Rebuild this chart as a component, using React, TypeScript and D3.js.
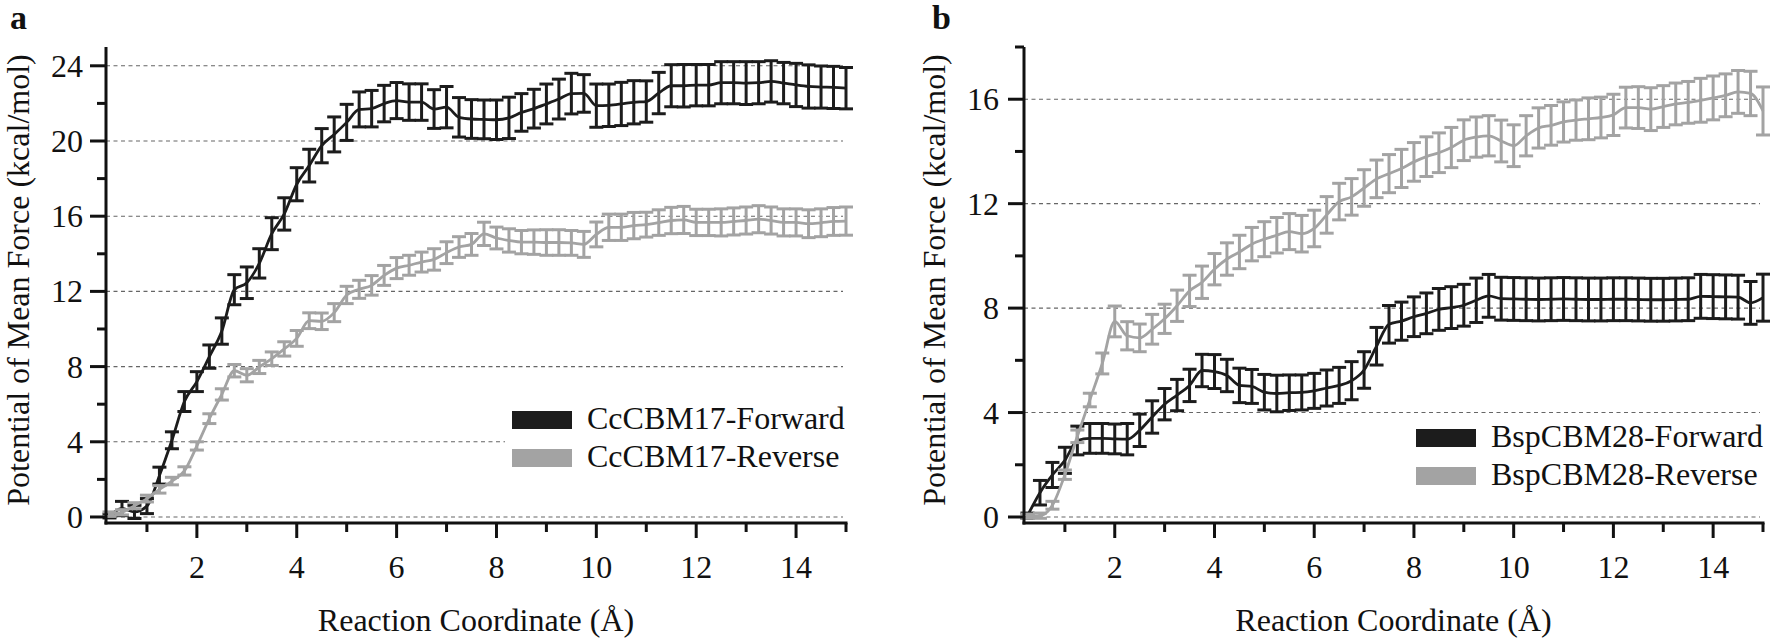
import React from "react";
import * as d3 from "d3";

// Reaction coordinate (Å) sampling points, shared by all four series
const coords = [
  0.25, 0.5, 0.75, 1, 1.25, 1.5, 1.75, 2, 2.25, 2.5, 2.75, 3, 3.25, 3.5, 3.75, 4,
  4.25, 4.5, 4.75, 5, 5.25, 5.5, 5.75, 6, 6.25, 6.5, 6.75, 7, 7.25, 7.5, 7.75, 8,
  8.25, 8.5, 8.75, 9, 9.25, 9.5, 9.75, 10, 10.25, 10.5, 10.75, 11, 11.25, 11.5, 11.75, 12,
  12.25, 12.5, 12.75, 13, 13.25, 13.5, 13.75, 14, 14.25, 14.5, 14.75, 15,
];

// Panel a: CcCBM17
const ccForward = [
  0.05, 0.45, 0.27, 0.58, 2.2, 4.08, 6.14, 7.2, 8.53, 9.89, 12.09, 12.46, 13.49, 15.07, 16.12, 17.7,
  18.69, 19.75, 20.35, 20.99, 21.68, 21.72, 21.99, 22.15, 22.07, 22.07, 21.7, 21.8, 21.26, 21.17, 21.15, 21.13,
  21.23, 21.52, 21.72, 21.97, 22.23, 22.52, 22.53, 21.88, 21.9, 21.97, 22.06, 22.1, 22.55, 22.94, 22.94, 22.97,
  22.97, 23.1, 23.1, 23.08, 23.1, 23.17, 23.08, 22.98, 22.9, 22.87, 22.85, 22.81,
];
const ccForwardErr = [
  0.1, 0.38, 0.35, 0.4, 0.45, 0.45, 0.53, 0.53, 0.62, 0.7, 0.8, 0.84, 0.78, 0.85, 0.86, 0.88,
  0.87, 0.91, 0.93, 0.96, 0.93, 0.97, 0.97, 0.96, 0.97, 0.97, 1.03, 1.1, 1.05, 1.03, 1.03, 1.05,
  1.1, 1.0, 1.03, 1.06, 1.06, 1.08, 1.0, 1.15, 1.13, 1.15, 1.15, 1.1, 1.1, 1.12, 1.13, 1.1,
  1.1, 1.12, 1.12, 1.14, 1.12, 1.1, 1.1, 1.15, 1.15, 1.12, 1.12, 1.1,
];
const ccReverse = [
  0.15, 0.25, 0.6, 0.98, 1.47, 1.91, 2.45, 3.78, 5.23, 6.52, 7.78, 7.54, 7.98, 8.42, 8.94, 9.5,
  10.44, 10.41, 10.87, 11.81, 12.11, 12.32, 12.85, 13.24, 13.39, 13.56, 13.7, 14.06, 14.36, 14.5, 15.06, 14.84,
  14.71, 14.62, 14.62, 14.6, 14.6, 14.58, 14.5, 15.03, 15.41, 15.41, 15.5, 15.55, 15.66, 15.77, 15.8, 15.67,
  15.67, 15.67, 15.72, 15.77, 15.84, 15.77, 15.67, 15.67, 15.6, 15.65, 15.72, 15.74,
];
const ccReverseErr = [
  0.12, 0.14, 0.16, 0.18, 0.2, 0.2, 0.22, 0.22, 0.26, 0.3, 0.33, 0.35, 0.35, 0.36, 0.38, 0.42,
  0.42, 0.44, 0.48, 0.46, 0.48, 0.52, 0.53, 0.56, 0.53, 0.53, 0.57, 0.58, 0.55, 0.58, 0.62, 0.58,
  0.62, 0.62, 0.65, 0.68, 0.68, 0.66, 0.69, 0.66, 0.7, 0.7, 0.7, 0.66, 0.68, 0.7, 0.72, 0.7,
  0.7, 0.72, 0.72, 0.72, 0.72, 0.72, 0.72, 0.72, 0.74, 0.74, 0.74, 0.75,
];

// Panel b: BspCBM28
const bspForward = [
  0.05, 0.93, 1.61, 2.17, 2.93, 3.01, 3.01, 2.99, 2.98, 3.32, 3.83, 4.32, 4.67, 5.04, 5.61, 5.57,
  5.42, 5.04, 5.0, 4.78, 4.73, 4.76, 4.77, 4.83, 4.94, 5.04, 5.22, 5.63, 6.54, 7.38, 7.5, 7.67,
  7.8, 7.95, 8.02, 8.11, 8.3, 8.47, 8.36, 8.35, 8.34, 8.33, 8.34, 8.35, 8.34, 8.33, 8.33, 8.34,
  8.34, 8.33, 8.32, 8.32, 8.33, 8.34, 8.45, 8.44, 8.43, 8.42, 8.2, 8.4,
];
const bspForwardErr = [
  0.1, 0.47, 0.48, 0.5, 0.55, 0.57, 0.57, 0.57, 0.6, 0.62, 0.62, 0.6, 0.6, 0.62, 0.62, 0.65,
  0.62, 0.66, 0.65, 0.68, 0.7, 0.68, 0.67, 0.67, 0.69, 0.69, 0.73, 0.7, 0.72, 0.72, 0.73, 0.76,
  0.78, 0.8, 0.8, 0.8, 0.85, 0.82, 0.82, 0.82, 0.82, 0.82, 0.82, 0.82, 0.82, 0.82, 0.82, 0.82,
  0.82, 0.82, 0.82, 0.82, 0.82, 0.82, 0.84, 0.84, 0.84, 0.84, 0.82, 0.9,
];
const bspReverse = [
  0.03, 0.05, 0.45, 1.62, 3.09, 4.48, 5.88, 7.49, 6.94, 6.86, 7.19, 7.59, 8.09, 8.66, 8.99, 9.49,
  9.88, 10.15, 10.45, 10.64, 10.79, 10.93, 10.85, 11.05, 11.57, 12.08, 12.26, 12.6, 12.95, 13.15, 13.35, 13.6,
  13.8, 13.95, 14.15, 14.43, 14.55, 14.6, 14.4, 14.22, 14.6, 14.9, 15.0, 15.13, 15.2, 15.25, 15.3, 15.4,
  15.68, 15.68, 15.62, 15.72, 15.82, 15.88, 15.96, 16.05, 16.15, 16.28, 16.22, 15.55,
];
const bspReverseErr = [
  0.08, 0.1, 0.15, 0.18, 0.24, 0.26, 0.4, 0.59, 0.54, 0.53, 0.57, 0.56, 0.6, 0.6, 0.62, 0.6,
  0.62, 0.64, 0.64, 0.67, 0.68, 0.69, 0.7, 0.7, 0.7, 0.7, 0.7, 0.7, 0.72, 0.73, 0.73, 0.74,
  0.76, 0.76, 0.77, 0.78, 0.77, 0.77, 0.8, 0.8, 0.77, 0.77, 0.76, 0.77, 0.77, 0.8, 0.78, 0.79,
  0.78, 0.8, 0.82, 0.8, 0.8, 0.8, 0.84, 0.84, 0.82, 0.82, 0.85, 0.92,
];

const xMajorTicks = [2, 4, 6, 8, 10, 12, 14];
const xMinorTicks = [1, 3, 5, 7, 9, 11, 13, 15];
const aYMajor = [0, 4, 8, 12, 16, 20, 24];
const aYMinor = [2, 6, 10, 14, 18, 22];
const bYMajor = [0, 4, 8, 12, 16];
const bYMinor = [2, 6, 10, 14, 18];

const BLACK = "#1c1c1c";
const GRAY = "#a3a3a3";
const FONT = "Liberation Serif, Times New Roman, Times, DejaVu Serif, serif";
const txt: React.CSSProperties = { fontFamily: FONT };

type Series = { name: string; values: number[]; errs: number[]; color: string };

type PanelProps = {
  letter: string;
  letterX: number;
  xRange: [number, number];
  yDomain: [number, number];
  yMajor: number[];
  yMinor: number[];
  series: Series[];
  tickLabelRight: number;
  yTitleX: number;
  legendX: number;
  legendY: number;
  legendBg: [number, number, number, number];
};

function Panel(p: PanelProps) {
  const x = d3.scaleLinear().domain([0.18, 15]).range(p.xRange);
  const y = d3.scaleLinear().domain(p.yDomain).range([523, 47]);
  const x0 = p.xRange[0];
  const x1 = p.xRange[1];
  const yBase = y(p.yDomain[0]);
  const yTop = y(p.yDomain[1]);
  const line = d3
    .line<number>()
    .x((_, i) => x(coords[i]))
    .y((d) => y(d))
    .curve(d3.curveMonotoneX);
  const cap = 7;
  return (
    <g>
      <text x={p.letterX} y={29} style={txt} fontWeight="bold" fontSize={34} fill="#111">
        {p.letter}
      </text>
      {p.yMajor.map((t) => (
        <line
          key={"g" + t}
          x1={x0}
          x2={x1 - 3}
          y1={y(t)}
          y2={y(t)}
          stroke="#666"
          strokeWidth={1.1}
          strokeDasharray="4,3.5"
        />
      ))}
      <rect x={p.legendBg[0]} y={p.legendBg[1]} width={p.legendBg[2]} height={p.legendBg[3]} fill="#fff" />
      {p.series.map((s) => (
        <g key={s.name}>
          <path d={line(s.values) || ""} fill="none" stroke={s.color} strokeWidth={2.8} />
          {s.values.map((v, i) => {
            const cx = x(coords[i]);
            const yt = y(v + s.errs[i]);
            const yb = y(v - s.errs[i]);
            return (
              <g key={i} stroke={s.color} strokeWidth={3}>
                <line x1={cx} x2={cx} y1={yt} y2={yb} />
                <line x1={cx - cap} x2={cx + cap} y1={yt} y2={yt} />
                <line x1={cx - cap} x2={cx + cap} y1={yb} y2={yb} />
              </g>
            );
          })}
        </g>
      ))}
      <line x1={x0} x2={x0} y1={yTop} y2={yBase + 1.5} stroke="#111" strokeWidth={3} />
      <line x1={x0 - 1.5} x2={x1 + 1.5} y1={yBase} y2={yBase} stroke="#111" strokeWidth={3} />
      {p.yMajor.map((t) => (
        <g key={"ym" + t}>
          <line x1={x0 - 16} x2={x0} y1={y(t)} y2={y(t)} stroke="#111" strokeWidth={3} />
          <text x={p.tickLabelRight} y={y(t) + 11} textAnchor="end" style={txt} fontSize={32} fill="#111">
            {t}
          </text>
        </g>
      ))}
      {p.yMinor.map((t) => (
        <line key={"yn" + t} x1={x0 - 9} x2={x0} y1={y(t)} y2={y(t)} stroke="#111" strokeWidth={3} />
      ))}
      {xMajorTicks.map((t) => (
        <g key={"xm" + t}>
          <line x1={x(t)} x2={x(t)} y1={yBase} y2={yBase + 15} stroke="#111" strokeWidth={3} />
          <text x={x(t)} y={578} textAnchor="middle" style={txt} fontSize={32} fill="#111">
            {t}
          </text>
        </g>
      ))}
      {xMinorTicks.map((t) => (
        <line key={"xn" + t} x1={x(t)} x2={x(t)} y1={yBase} y2={yBase + 9} stroke="#111" strokeWidth={3} />
      ))}
      <text x={(x0 + x1) / 2} y={631} textAnchor="middle" style={txt} fontSize={32} fill="#111">
        Reaction Coordinate (Å)
      </text>
      <text
        transform={`translate(${p.yTitleX},280) rotate(-90)`}
        textAnchor="middle"
        style={txt}
        fontSize={32}
        fill="#111"
      >
        Potential of Mean Force (kcal/mol)
      </text>
      {p.series.map((s, i) => (
        <g key={"lg" + s.name}>
          <rect x={p.legendX} y={p.legendY + i * 38} width={60} height={18} fill={s.color} />
          <text x={p.legendX + 75} y={p.legendY + 18 + i * 38} style={txt} fontSize={32} fill="#111">
            {s.name}
          </text>
        </g>
      ))}
    </g>
  );
}

export default function App() {
  return (
    <svg
      width={1772}
      height={638}
      viewBox="0 0 1772 638"
      style={{ position: "absolute", left: 0, top: 0, background: "#fff" }}
    >
      <rect x={0} y={0} width={1772} height={638} fill="#fff" />
      <Panel
        letter="a"
        letterX={10}
        xRange={[106, 846]}
        yDomain={[-0.32, 25]}
        yMajor={aYMajor}
        yMinor={aYMinor}
        tickLabelRight={83}
        yTitleX={29}
        legendX={512}
        legendY={411}
        legendBg={[505, 396, 345, 86]}
        series={[
          { name: "CcCBM17-Forward", values: ccForward, errs: ccForwardErr, color: BLACK },
          { name: "CcCBM17-Reverse", values: ccReverse, errs: ccReverseErr, color: GRAY },
        ]}
      />
      <Panel
        letter="b"
        letterX={932}
        xRange={[1024, 1763]}
        yDomain={[-0.23, 18]}
        yMajor={bYMajor}
        yMinor={bYMinor}
        tickLabelRight={999}
        yTitleX={945}
        legendX={1416}
        legendY={429}
        legendBg={[1408, 418, 362, 84]}
        series={[
          { name: "BspCBM28-Forward", values: bspForward, errs: bspForwardErr, color: BLACK },
          { name: "BspCBM28-Reverse", values: bspReverse, errs: bspReverseErr, color: GRAY },
        ]}
      />
    </svg>
  );
}
